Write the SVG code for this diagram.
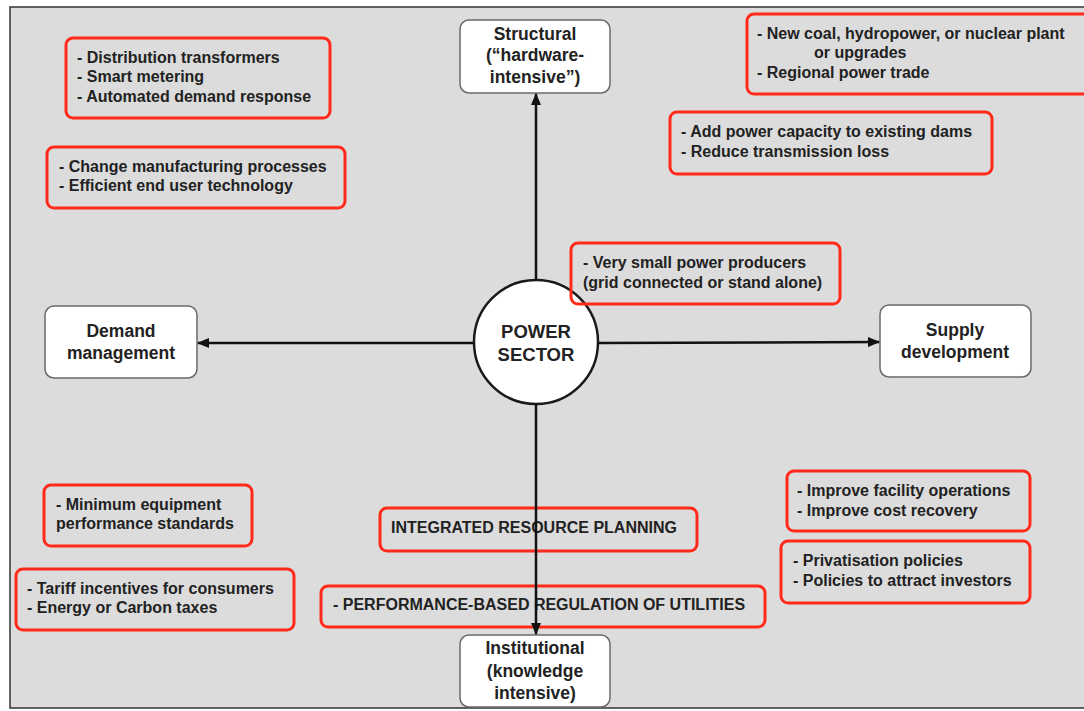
<svg xmlns="http://www.w3.org/2000/svg" width="1084" height="711" viewBox="0 0 1084 711">
  <style>
    .node rect { fill: #ffffff; stroke: #6a6a6a; stroke-width: 1.5; }
    .node circle { fill: #ffffff; stroke: #1a1a1a; stroke-width: 2.5; }
    .node text { font-family: "Liberation Sans", Arial, sans-serif; font-weight: bold; font-size: 17.5px; fill: #222; text-anchor: middle; }
    .note rect { fill: none; stroke: #ff2a1a; stroke-width: 3; }
    .note text { font-family: "Liberation Sans", Arial, sans-serif; font-weight: bold; font-size: 16px; fill: #222; }
    .conn line { stroke: #111; stroke-width: 2.5; }
  </style>
  <defs>
    <marker id="arrow" viewBox="0 0 12 10" refX="11" refY="5" markerWidth="12" markerHeight="10" markerUnits="userSpaceOnUse" orient="auto">
      <path d="M0,0 L12,5 L0,10 Z" fill="#111"/>
    </marker>
  </defs>

  <!-- page frame -->
  <rect x="0" y="0" width="1084" height="711" fill="#ffffff"/>
  <rect x="10" y="7" width="1080" height="701" fill="#dcdcdc" stroke="#333" stroke-width="1.5"/>

  <!-- main nodes -->
  <g id="structural" class="node">
    <rect x="460" y="20" width="150" height="73" rx="9"/>
    <text x="535" y="40">Structural</text>
    <text x="535" y="61">(“hardware-</text>
    <text x="535" y="83">intensive”)</text>
  </g>
  <g id="demand" class="node">
    <rect x="45" y="306" width="152" height="72" rx="9"/>
    <text x="121" y="337">Demand</text>
    <text x="121" y="359">management</text>
  </g>
  <g id="supply" class="node">
    <rect x="880" y="305" width="151" height="72" rx="9"/>
    <text x="955" y="336">Supply</text>
    <text x="955" y="358">development</text>
  </g>
  <g id="institutional" class="node">
    <rect x="460" y="635" width="150" height="72" rx="9"/>
    <text x="535" y="654">Institutional</text>
    <text x="535" y="677">(knowledge</text>
    <text x="535" y="699">intensive)</text>
  </g>
  <g id="power-sector" class="node">
    <circle cx="536" cy="342" r="62"/>
    <text x="536" y="338" style="font-size:18.5px">POWER</text>
    <text x="536" y="361" style="font-size:18.5px">SECTOR</text>
  </g>

  <!-- option notes -->
  <g id="note-distribution" class="note">
    <rect x="66" y="38" width="264" height="80" rx="7"/>
    <text x="77" y="63">- Distribution transformers</text>
    <text x="77" y="82">- Smart metering</text>
    <text x="77" y="102">- Automated demand response</text>
  </g>
  <g id="note-manufacturing" class="note">
    <rect x="47" y="147" width="298" height="61" rx="7"/>
    <text x="59" y="172">- Change manufacturing processes</text>
    <text x="59" y="191">- Efficient end user technology</text>
  </g>
  <g id="note-new-plant" class="note">
    <rect x="747" y="14" width="345" height="80" rx="7"/>
    <text x="757" y="39">- New coal, hydropower, or nuclear plant</text>
    <text x="814" y="58">or upgrades</text>
    <text x="757" y="78">- Regional power trade</text>
  </g>
  <g id="note-capacity" class="note">
    <rect x="670" y="112" width="322" height="62" rx="7"/>
    <text x="681" y="137">- Add power capacity to existing dams</text>
    <text x="681" y="157">- Reduce transmission loss</text>
  </g>
  <g id="note-small-producers" class="note">
    <rect x="571" y="243" width="269" height="61" rx="7"/>
    <text x="583" y="268">- Very small power producers</text>
    <text x="583" y="288">(grid connected or stand alone)</text>
  </g>
  <g id="note-standards" class="note">
    <rect x="44" y="485" width="208" height="61" rx="7"/>
    <text x="56" y="510">- Minimum equipment</text>
    <text x="56" y="529">performance standards</text>
  </g>
  <g id="note-tariff" class="note">
    <rect x="16" y="569" width="278" height="61" rx="7"/>
    <text x="27" y="594">- Tariff incentives for consumers</text>
    <text x="27" y="613">- Energy or Carbon taxes</text>
  </g>
  <g id="note-irp" class="note">
    <rect x="380" y="508" width="317" height="43" rx="7"/>
    <text x="391" y="533">INTEGRATED RESOURCE PLANNING</text>
  </g>
  <g id="note-regulation" class="note">
    <rect x="321" y="586" width="444" height="41" rx="7"/>
    <text x="333" y="610">- PERFORMANCE-BASED REGULATION OF UTILITIES</text>
  </g>
  <g id="note-operations" class="note">
    <rect x="787" y="471" width="243" height="60" rx="7"/>
    <text x="797" y="496">- Improve facility operations</text>
    <text x="797" y="516">- Improve cost recovery</text>
  </g>
  <g id="note-privatisation" class="note">
    <rect x="781" y="541" width="249" height="62" rx="7"/>
    <text x="793" y="566">- Privatisation policies</text>
    <text x="793" y="586">- Policies to attract investors</text>
  </g>

  <!-- connectors from the centre -->
  <g id="connectors" class="conn">
    <line x1="536" y1="280" x2="536" y2="94" marker-end="url(#arrow)"/>
    <line x1="474" y1="343" x2="198" y2="343" marker-end="url(#arrow)"/>
    <line x1="598" y1="343" x2="879" y2="342" marker-end="url(#arrow)"/>
    <line x1="536" y1="404" x2="536" y2="634" marker-end="url(#arrow)"/>
  </g>
</svg>
